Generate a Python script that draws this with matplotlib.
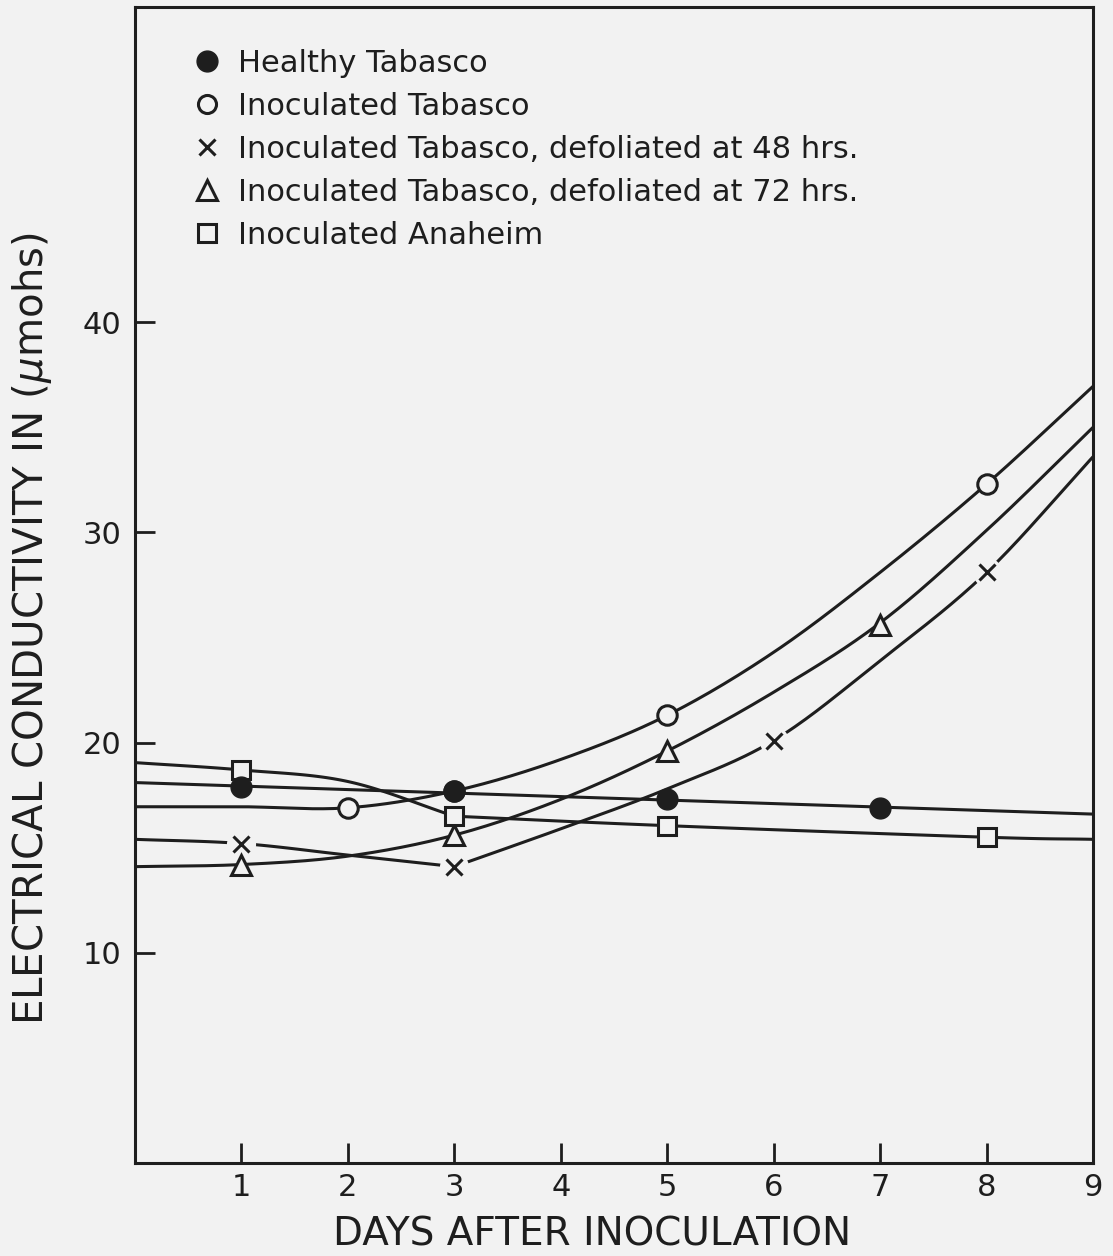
import numpy as np
import matplotlib
matplotlib.use("Agg")
import matplotlib.pyplot as plt
from matplotlib.lines import Line2D

# measured points (day, conductivity in micromhos)
healthy_days = [1, 3, 5, 7]
healthy_vals = [17.9, 17.7, 17.3, 16.9]
inoc_days = [2, 3, 5, 8]
inoc_vals = [16.9, 17.7, 21.3, 32.3]
def48_days = [1, 3, 6, 8]
def48_vals = [15.2, 14.1, 20.1, 28.1]
def72_days = [1, 3, 5, 7]
def72_vals = [14.2, 15.6, 19.6, 25.6]
anaheim_days = [1, 3, 5, 8]
anaheim_vals = [18.7, 16.5, 16.05, 15.5]

# the hand drawn curves (some are drawn in two pieces)
healthy_cx = [0, 9]
healthy_cy = [18.1, 16.6]
inoc_cx = [0, 1, 2, 3, 4, 5, 6, 7, 8, 9]
inoc_cy = [16.95, 16.95, 16.9, 17.7, 19.2, 21.3, 24.3, 28.1, 32.3, 36.95]
def48_cx_a = [0, 1, 2, 3]
def48_cy_a = [15.4, 15.2, 14.65, 14.1]
def48_cx_b = [3, 4, 5, 6, 7, 8, 9]
def48_cy_b = [14.1, 15.9, 17.8, 20.1, 23.9, 28.1, 33.6]
def72_cx = [0, 1, 2, 3, 4, 5, 6, 7, 8, 9]
def72_cy = [14.1, 14.2, 14.6, 15.6, 17.3, 19.6, 22.4, 25.7, 30.1, 35.0]
anaheim_cx_a = [0, 1, 2, 3]
anaheim_cy_a = [19.05, 18.7, 18.15, 16.5]
anaheim_cx_b = [3, 5, 8, 9]
anaheim_cy_b = [16.5, 16.05, 15.5, 15.4]

labels = ["Healthy Tabasco",
          "Inoculated Tabasco",
          "Inoculated Tabasco, defoliated at 48 hrs.",
          "Inoculated Tabasco, defoliated at 72 hrs.",
          "Inoculated Anaheim"]

x_ticks = [1, 2, 3, 4, 5, 6, 7, 8, 9]
y_ticks = [10, 20, 30, 40]

BG = "#f2f2f2"
INK = "#1e1e1e"


def smooth(xs, ys, n=30):
    # catmull-rom through the read curve points
    p = np.column_stack([xs, ys]).astype(float)
    if len(p) < 3:
        return p[:, 0], p[:, 1]
    p = np.vstack([2 * p[0] - p[1], p, 2 * p[-1] - p[-2]])
    t = np.linspace(0, 1, n, endpoint=False)[:, None]
    segs = []
    for i in range(1, len(p) - 2):
        p0, p1, p2, p3 = p[i - 1], p[i], p[i + 1], p[i + 2]
        segs.append(0.5 * (2 * p1 + (-p0 + p2) * t
                           + (2 * p0 - 5 * p1 + 4 * p2 - p3) * t ** 2
                           + (-p0 + 3 * p1 - 3 * p2 + p3) * t ** 3))
    segs.append(p[-2][None, :])
    out = np.vstack(segs)
    return out[:, 0], out[:, 1]


plt.rcParams["font.family"] = ["DejaVu Sans"]
fig = plt.figure(figsize=(11.13, 12.56), dpi=100, facecolor=BG)
ax = fig.add_axes([135 / 1113, 1 - 1163 / 1256, 958 / 1113, 1156 / 1256])
ax.set_facecolor(BG)

lw = 2.2
curves = [(healthy_cx, healthy_cy), (inoc_cx, inoc_cy),
          (def48_cx_a, def48_cy_a), (def48_cx_b, def48_cy_b),
          (def72_cx, def72_cy),
          (anaheim_cx_a, anaheim_cy_a), (anaheim_cx_b, anaheim_cy_b)]
for cx, cy in curves:
    sx, sy = smooth(cx, cy)
    ax.plot(sx, sy, color=INK, lw=lw, zorder=2, solid_capstyle="butt")

# the x series has its line broken around each mark
ax.plot(def48_days, def48_vals, ls="none", marker="o", ms=21, mfc=BG, mec="none", zorder=3)
ax.plot(def48_days, def48_vals, ls="none", marker="x", ms=12, mec=INK, mew=2.2, zorder=4)

ax.plot(inoc_days, inoc_vals, ls="none", marker="o", ms=14, mfc=BG, mec=INK, mew=2.2, zorder=4)
ax.plot(def72_days, def72_vals, ls="none", marker="^", ms=15, mfc=BG, mec=INK, mew=2.2, zorder=4)
ax.plot(anaheim_days, anaheim_vals, ls="none", marker="s", ms=13, mfc=BG, mec=INK, mew=2.2, zorder=4)
ax.plot(healthy_days, healthy_vals, ls="none", marker="o", ms=15, mfc=INK, mec=INK, zorder=5)

ax.set_xlim(0, 9)
ax.set_ylim(0, 55)
ax.set_xticks(x_ticks)
ax.set_yticks(y_ticks)
ax.tick_params(axis="x", direction="in", length=14.5, width=2, labelsize=22, pad=7,
               colors=INK)
ax.tick_params(axis="y", direction="in", length=14.5, width=2, labelsize=22, pad=10,
               colors=INK)
for s in ax.spines.values():
    s.set_linewidth(2.2)
    s.set_color(INK)

ax.set_xlabel("DAYS AFTER INOCULATION", fontsize=28, color=INK)
ax.xaxis.set_label_coords(0.477, -0.045)
ax.set_ylabel(r"ELECTRICAL CONDUCTIVITY IN ($\mu$mohs)", fontsize=29, color=INK)
ax.yaxis.set_label_coords(-0.0846, 0.462)

handles = [
    Line2D([], [], ls="none", marker="o", ms=15, mfc=INK, mec=INK),
    Line2D([], [], ls="none", marker="o", ms=13, mfc=BG, mec=INK, mew=2.2),
    Line2D([], [], ls="none", marker="x", ms=12, mec=INK, mew=2.2),
    Line2D([], [], ls="none", marker="^", ms=14, mfc=BG, mec=INK, mew=2.2),
    Line2D([], [], ls="none", marker="s", ms=13, mfc=BG, mec=INK, mew=2.2),
]
leg = ax.legend(handles, labels, loc="upper left", bbox_to_anchor=(0.0592, 0.9637),
                frameon=False, fontsize=22, handlelength=1.0, handletextpad=0.51,
                borderpad=0, borderaxespad=0, labelspacing=0.46)
for t in leg.get_texts():
    t.set_color(INK)

fig.savefig("out.png", dpi=100, facecolor=BG)
